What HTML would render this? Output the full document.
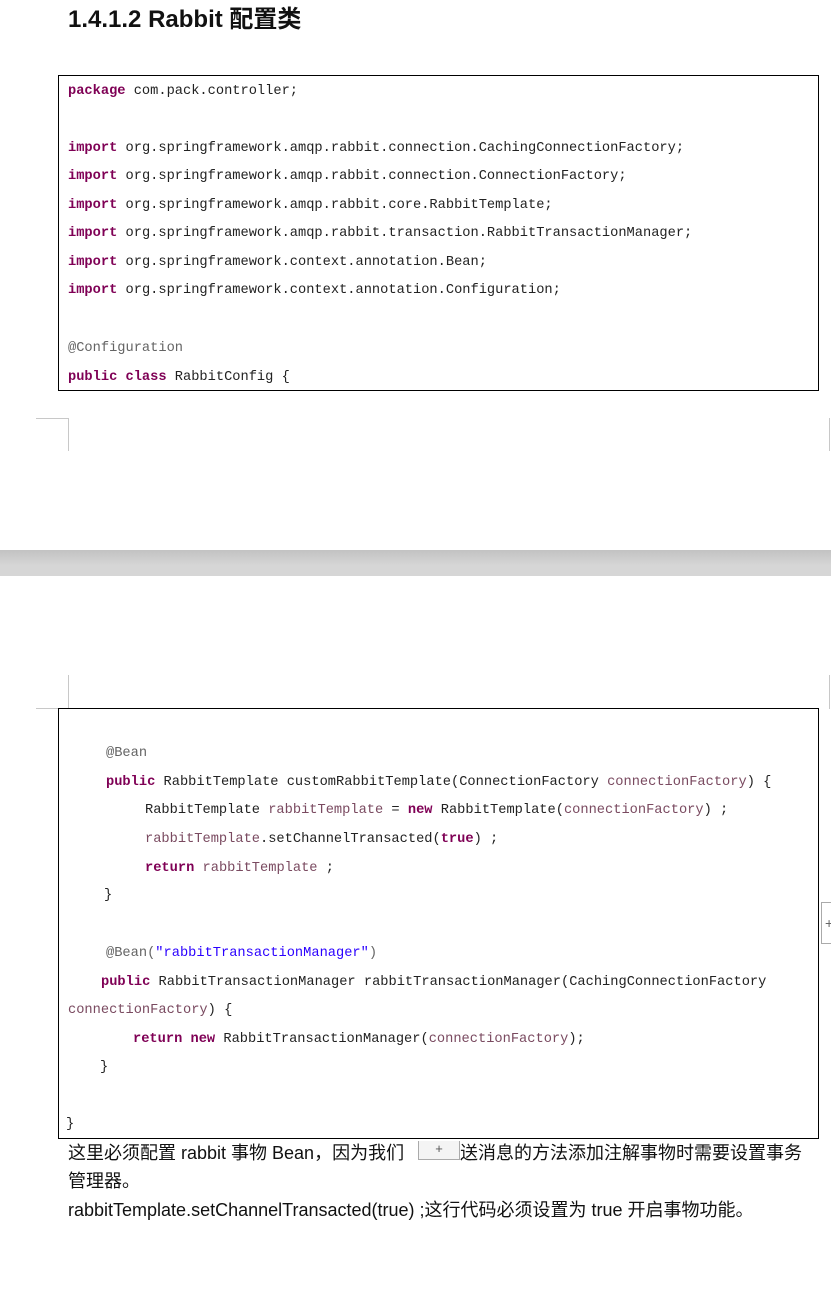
<!DOCTYPE html>
<html><head><meta charset="utf-8"><style>
body{margin:0;width:831px;height:1296px;position:relative;background:#fff;overflow:hidden}
.a{position:absolute}
.c{position:absolute;font-family:"Liberation Mono","Noto Sans CJK SC",monospace;font-size:13.7px;line-height:20px;white-space:pre;color:#222}
.k{color:#7f0055;font-weight:bold}
.v{color:#7a4a60}
.n{color:#646464}
.s{color:#2a00ff}
.t{position:absolute;font-family:"Liberation Sans","Noto Sans CJK SC",sans-serif;font-size:18px;line-height:22px;white-space:pre;color:#111}
.box{position:absolute;border:1px solid #000;box-sizing:border-box}
.g{position:absolute;background:#c8c8c8}
</style></head><body>
<div class="a" style="left:68px;top:4px;font-family:'Liberation Sans','Noto Sans CJK SC',sans-serif;font-weight:bold;font-size:24px;line-height:32px;color:#111">1.4.1.2 Rabbit 配置类</div>

<div class="box" style="left:58px;top:75px;width:761px;height:316px"></div>
<div class="c" style="left:68px;top:82px"><span class="k">package</span> com.pack.controller;</div>
<div class="c" style="left:68px;top:139px"><span class="k">import</span> org.springframework.amqp.rabbit.connection.CachingConnectionFactory;</div>
<div class="c" style="left:68px;top:167px"><span class="k">import</span> org.springframework.amqp.rabbit.connection.ConnectionFactory;</div>
<div class="c" style="left:68px;top:196px"><span class="k">import</span> org.springframework.amqp.rabbit.core.RabbitTemplate;</div>
<div class="c" style="left:68px;top:224px"><span class="k">import</span> org.springframework.amqp.rabbit.transaction.RabbitTransactionManager;</div>
<div class="c" style="left:68px;top:253px"><span class="k">import</span> org.springframework.context.annotation.Bean;</div>
<div class="c" style="left:68px;top:281px"><span class="k">import</span> org.springframework.context.annotation.Configuration;</div>
<div class="c" style="left:68px;top:339px"><span class="n">@Configuration</span></div>
<div class="c" style="left:68px;top:368px"><span class="k">public class</span> RabbitConfig {</div>

<div class="g" style="left:36px;top:418px;width:33px;height:1px"></div>
<div class="g" style="left:68px;top:418px;width:1px;height:33px"></div>
<div class="g" style="left:829px;top:418px;width:1px;height:33px"></div>
<div class="a" style="left:0;top:550px;width:831px;height:26px;background:linear-gradient(#c2c2c2,#d6d6d6 60%,#d6d6d6)"></div>
<div class="g" style="left:68px;top:675px;width:1px;height:34px"></div>
<div class="g" style="left:36px;top:708px;width:33px;height:1px"></div>
<div class="g" style="left:829px;top:675px;width:1px;height:34px"></div>

<div class="box" style="left:58px;top:708px;width:761px;height:431px"></div>
<div class="c" style="left:106px;top:744px"><span class="n">@Bean</span></div>
<div class="c" style="left:106px;top:773px"><span class="k">public</span> RabbitTemplate customRabbitTemplate(ConnectionFactory <span class="v">connectionFactory</span>) {</div>
<div class="c" style="left:145px;top:801px">RabbitTemplate <span class="v">rabbitTemplate</span> = <span class="k">new</span> RabbitTemplate(<span class="v">connectionFactory</span>) ;</div>
<div class="c" style="left:145px;top:830px"><span class="v">rabbitTemplate</span>.setChannelTransacted(<span class="k">true</span>) ;</div>
<div class="c" style="left:145px;top:859px"><span class="k">return</span> <span class="v">rabbitTemplate</span> ;</div>
<div class="c" style="left:104px;top:886px">}</div>
<div class="c" style="left:106px;top:944px"><span class="n">@Bean(</span><span class="s">"rabbitTransactionManager"</span><span class="n">)</span></div>
<div class="c" style="left:101px;top:973px"><span class="k">public</span> RabbitTransactionManager rabbitTransactionManager(CachingConnectionFactory</div>
<div class="c" style="left:68px;top:1001px"><span class="v">connectionFactory</span>) {</div>
<div class="c" style="left:133px;top:1030px"><span class="k">return new</span> RabbitTransactionManager(<span class="v">connectionFactory</span>);</div>
<div class="c" style="left:100px;top:1058px">}</div>
<div class="c" style="left:66px;top:1115px">}</div>
<div class="a" style="left:821px;top:902px;width:10px;height:40px;border-top:1px solid #aaa;border-bottom:1px solid #aaa;border-left:1px solid #aaa;font:14px 'Liberation Sans';color:#666;line-height:40px;padding-left:3px">+</div>

<div class="t" style="left:68px;top:1142px">这里必须配置 rabbit 事物 Bean，因为我们</div>
<div class="a" style="left:418px;top:1141px;width:40px;height:18px;border:1px solid #aaa;border-top:none;background:#f4f4f4;font:13px 'Liberation Sans';color:#555;text-align:center;line-height:16px">+</div>
<div class="t" style="left:460px;top:1142px">送消息的方法添加注解事物时需要设置事务</div>
<div class="t" style="left:68px;top:1170px">管理器。</div>
<div class="t" style="left:68px;top:1199px">rabbitTemplate.setChannelTransacted(true) ;这行代码必须设置为 true 开启事物功能。</div>
</body></html>
